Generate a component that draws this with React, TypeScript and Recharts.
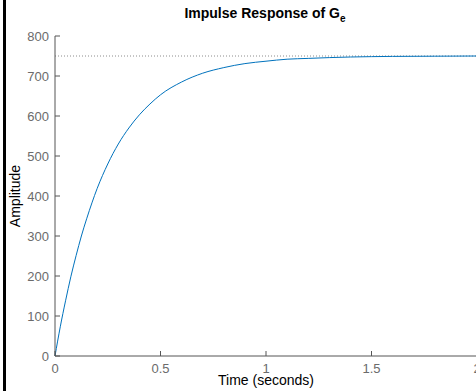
import { LineChart, Line, XAxis, YAxis, ReferenceLine } from "recharts"

// time (s) and amplitude
const times = [0, 0.025, 0.05, 0.075, 0.1, 0.125, 0.15, 0.2, 0.25, 0.3, 0.35, 0.4, 0.45, 0.5, 0.6, 0.7, 0.8, 0.9, 1.0, 1.1, 1.2, 1.3, 1.4, 1.5, 1.6, 1.8, 2.0]
const amplitude = [0, 73, 138, 198, 251, 300, 343, 419, 480, 530, 570, 603, 630, 653, 685, 707, 721, 731, 737, 742, 744, 746, 747.5, 748.4, 749, 749.5, 750]
const finalValue = 750

const xTicks = [0, 0.5, 1, 1.5, 2]
const yTicks = [0, 100, 200, 300, 400, 500, 600, 700, 800]

const data = times.map((t, i) => ({ t, v: amplitude[i] }))

const axisColor = "#555555"
const labelColor = "#6b6b6b"
const font = "'Liberation Sans', Arial, Helvetica, sans-serif"
const tickLen = 5

const BottomTick = (props: any) => {
  const { x, y, payload } = props
  return (
    <g>
      <line x1={x} y1={y} x2={x} y2={y - tickLen} stroke={axisColor} />
      <text x={x} y={y + 17} textAnchor="middle" fill={labelColor} fontSize={13} fontFamily={font}>
        {payload.value}
      </text>
    </g>
  )
}

const TopTick = (props: any) => {
  const { x, y } = props
  return <line x1={x} y1={y} x2={x} y2={y + tickLen} stroke={axisColor} />
}

const LeftTick = (props: any) => {
  const { x, y, payload } = props
  return (
    <g>
      <line x1={x} y1={y} x2={x + tickLen} y2={y} stroke={axisColor} />
      <text x={x - 6} y={y + 5} textAnchor="end" fill={labelColor} fontSize={13} fontFamily={font}>
        {payload.value}
      </text>
    </g>
  )
}

const RightTick = (props: any) => {
  const { x, y } = props
  return <line x1={x} y1={y} x2={x - tickLen} y2={y} stroke={axisColor} />
}

export default function App() {
  return (
    <div style={{ position: "absolute", left: 0, top: 0, width: 476, height: 391, overflow: "hidden", background: "#fff", fontFamily: font }}>
      <div style={{ position: "absolute", left: 3, top: 0, width: 3, height: 391, background: "#000" }} />
      <div style={{ position: "absolute", left: 0, width: 530, top: 5, textAlign: "center", fontWeight: "bold", fontSize: 14, color: "#000" }}>
        Impulse Response of G<sub style={{ fontSize: 10, verticalAlign: -4 }}>e</sub>
      </div>
      <div style={{ position: "absolute", left: 0, width: 532, top: 372, textAlign: "center", fontSize: 14, color: "#000" }}>
        Time (seconds)
      </div>
      <div
        style={{
          position: "absolute",
          left: 15,
          top: 196,
          fontSize: 14,
          color: "#000",
          whiteSpace: "nowrap",
          transform: "translate(-50%, -50%) rotate(-90deg)",
        }}
      >
        Amplitude
      </div>
      <LineChart width={480} height={391} data={data} margin={{ top: 36, right: 3, bottom: 0, left: 0 }}>
        <XAxis
          xAxisId={0}
          dataKey="t"
          type="number"
          domain={[0, 2]}
          ticks={xTicks}
          height={35}
          tickSize={0}
          tickMargin={0}
          tickLine={false}
          axisLine={{ stroke: axisColor }}
          tick={<BottomTick />}
          interval={0}
        />
        <XAxis
          xAxisId="top"
          orientation="top"
          dataKey="t"
          type="number"
          domain={[0, 2]}
          ticks={xTicks}
          height={0}
          tickSize={0}
          tickMargin={0}
          tickLine={false}
          axisLine={{ stroke: axisColor }}
          tick={<TopTick />}
          interval={0}
        />
        <YAxis
          yAxisId={0}
          type="number"
          domain={[0, 800]}
          ticks={yTicks}
          width={55}
          tickSize={0}
          tickMargin={0}
          tickLine={false}
          axisLine={{ stroke: axisColor }}
          tick={<LeftTick />}
          interval={0}
        />
        <YAxis
          yAxisId="right"
          orientation="right"
          type="number"
          domain={[0, 800]}
          ticks={yTicks}
          width={0}
          tickSize={0}
          tickMargin={0}
          tickLine={false}
          axisLine={{ stroke: axisColor }}
          tick={<RightTick />}
          interval={0}
        />
        <ReferenceLine y={finalValue} stroke="#8c8c8c" strokeDasharray="1 2" strokeWidth={1} />
        <Line
          type="monotone"
          dataKey="v"
          stroke="#0072BD"
          strokeWidth={1}
          dot={false}
          isAnimationActive={false}
        />
      </LineChart>
    </div>
  )
}
